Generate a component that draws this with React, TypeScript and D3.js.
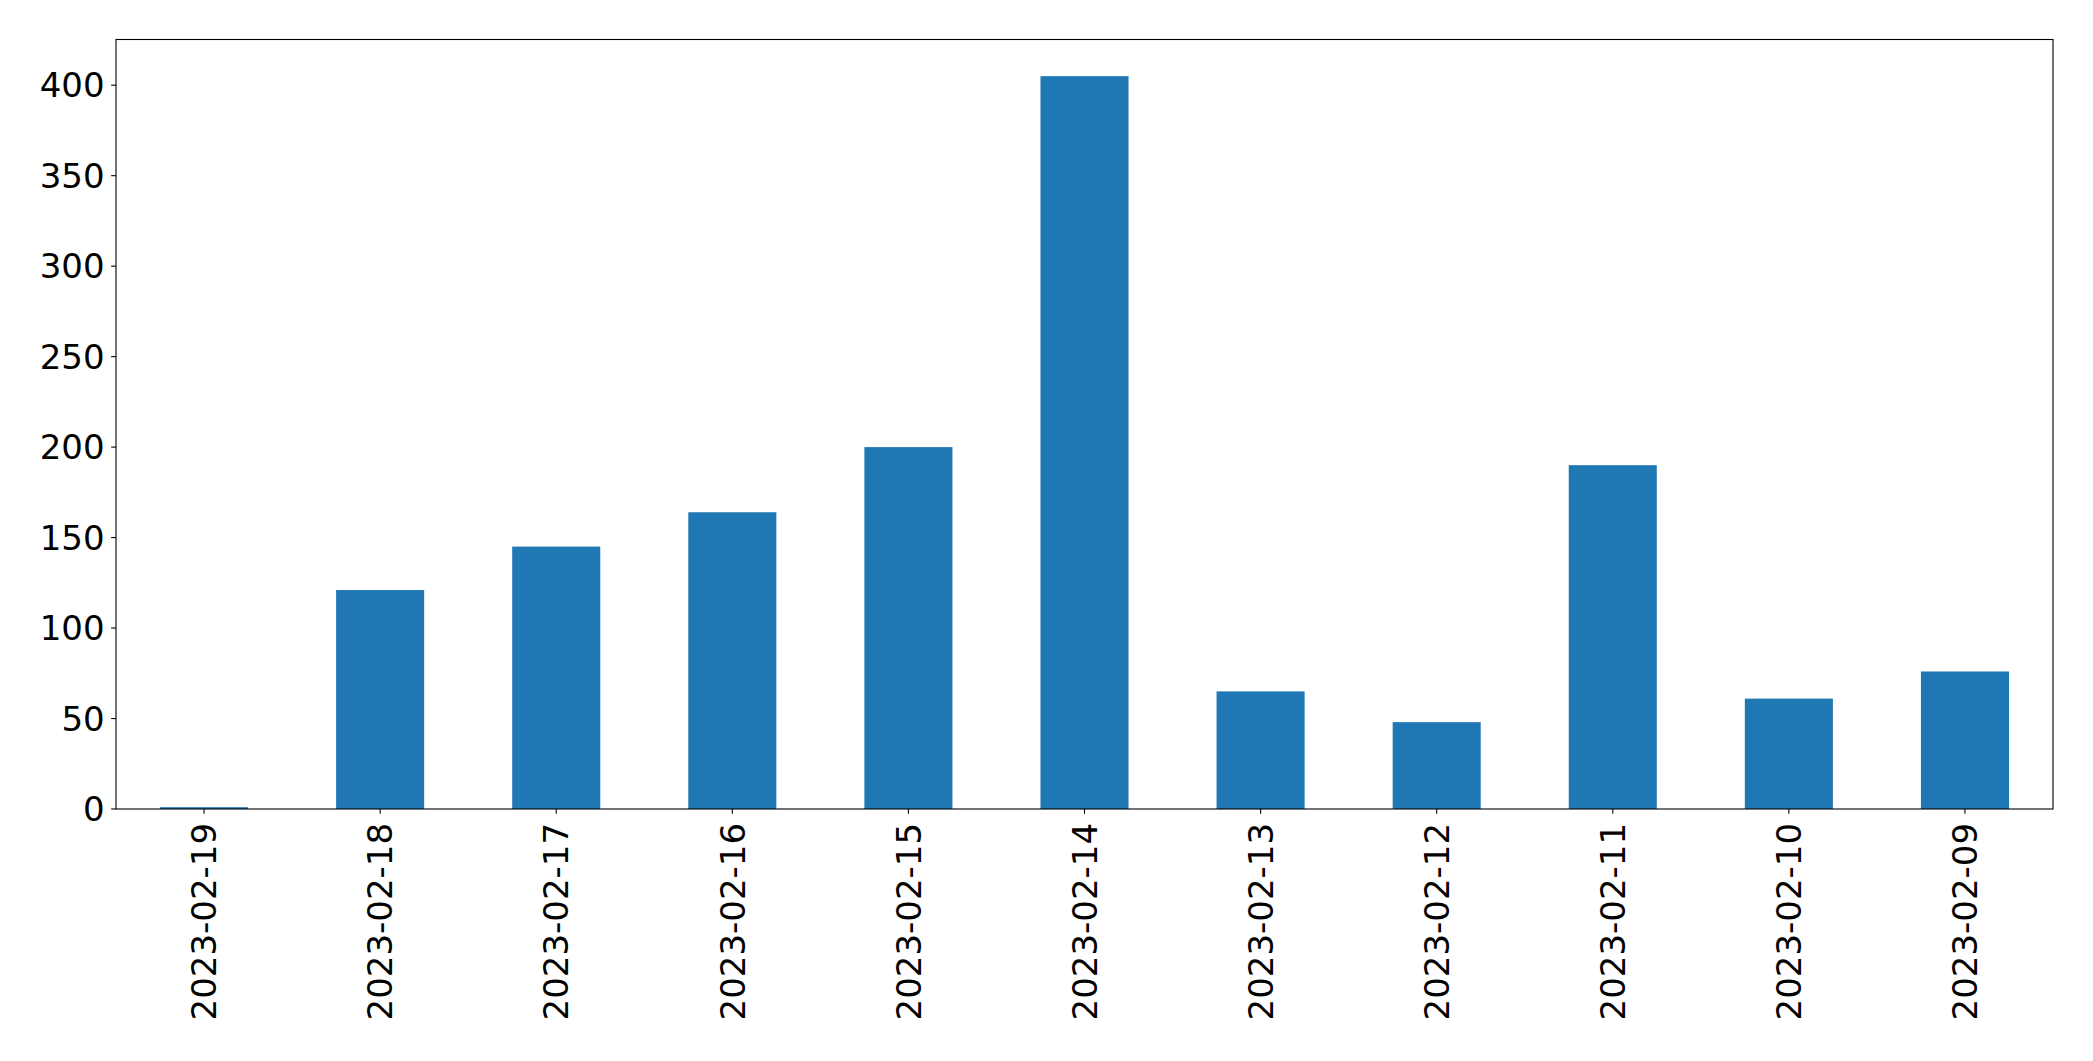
import { scaleBand, scaleLinear } from "d3";

const dates = [
  "2023-02-19",
  "2023-02-18",
  "2023-02-17",
  "2023-02-16",
  "2023-02-15",
  "2023-02-14",
  "2023-02-13",
  "2023-02-12",
  "2023-02-11",
  "2023-02-10",
  "2023-02-09",
];
const counts = [1, 121, 145, 164, 200, 405, 65, 48, 190, 61, 76];
const yTickValues = [0, 50, 100, 150, 200, 250, 300, 350, 400];

const W = 2093;
const H = 1061;
const margin = { top: 39.5, right: 40, bottom: 252, left: 116 };
const FONT = "'DejaVu Sans', sans-serif";
const FS = 34;
const TICK = 4.86;

export default function App() {
  const width = W - margin.left - margin.right;
  const height = H - margin.top - margin.bottom;

  const x = scaleBand<string>()
    .domain(dates)
    .range([0, width])
    .paddingInner(0.5)
    .paddingOuter(0.25);

  const yMax = Math.max(...counts) * 1.05;
  const y = scaleLinear().domain([0, yMax]).range([height, 0]);

  return (
    <svg
      width={W}
      height={H}
      style={{ position: "absolute", left: 0, top: 0, background: "#fff" }}
    >
      <g transform={`translate(${margin.left},${margin.top})`}>
        {dates.map((d, i) => (
          <rect
            key={`bar-${d}`}
            x={x(d)}
            y={y(counts[i])}
            width={x.bandwidth()}
            height={height - y(counts[i])}
            fill="#1f77b4"
          />
        ))}

        {/* spines */}
        <rect
          x={0}
          y={0}
          width={width}
          height={height}
          fill="none"
          stroke="#000"
          strokeWidth={1.1}
        />

        {yTickValues.map((t) => (
          <g key={`y-${t}`} transform={`translate(0,${y(t)})`}>
            <line x1={-TICK} x2={0} stroke="#000" strokeWidth={1.1} />
            <text
              x={-TICK - 6.5}
              dy="0.36em"
              textAnchor="end"
              fontFamily={FONT}
              fontSize={FS}
              fill="#000"
            >
              {t}
            </text>
          </g>
        ))}

        {dates.map((d) => {
          const cx = (x(d) ?? 0) + x.bandwidth() / 2;
          return (
            <g key={`x-${d}`} transform={`translate(${cx},${height})`}>
              <line y1={0} y2={TICK} stroke="#000" strokeWidth={1.1} />
              <text
                transform={`translate(0,${TICK + 9}) rotate(-90)`}
                dy="0.36em"
                textAnchor="end"
                fontFamily={FONT}
                fontSize={FS}
                fill="#000"
              >
                {d}
              </text>
            </g>
          );
        })}
      </g>
    </svg>
  );
}
